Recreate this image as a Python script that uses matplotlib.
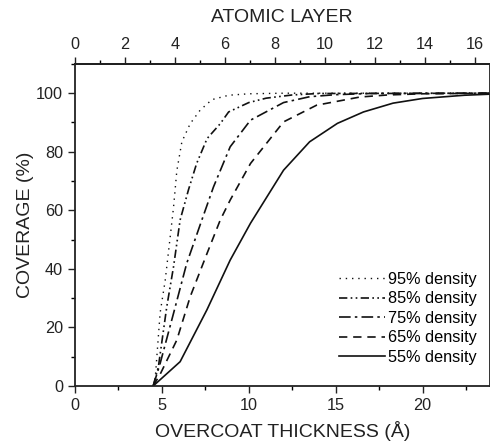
import matplotlib
matplotlib.use("Agg")
import matplotlib.pyplot as plt
from matplotlib.ticker import MultipleLocator, FixedLocator

plt.rcParams['font.family'] = ['Liberation Sans', 'DejaVu Sans']

ANGSTROM_PER_LAYER = 1.438
layer_ticks = [0, 2, 4, 6, 8, 10, 12, 14, 16]

# (thickness in Angstrom, coverage %)
x95 = [4.5, 4.61, 4.9, 5.19, 5.48, 5.67, 5.86, 6.15, 6.63, 7.2, 7.88, 8.84, 10.0, 12.0, 24.0]
y95 = [0, 2, 25, 36, 51, 61, 73.5, 83.4, 89.6, 94.2, 97.8, 99.3, 99.8, 100, 100]

x85 = [4.5, 4.8, 5.28, 5.67, 6.05, 6.53, 7.0, 7.6, 8.36, 8.84, 10.0, 11.0, 12.5, 14.0, 24.0]
y85 = [0, 6.6, 27, 40.7, 56.7, 67, 76, 84.5, 89.6, 93.6, 96.8, 98.3, 99.4, 99.9, 100]

x75 = [4.5, 4.9, 5.67, 6.43, 7.3, 7.97, 8.93, 10.1, 12.0, 13.5, 15.0, 17.0, 24.0]
y75 = [0, 7.7, 24.8, 41.9, 56.7, 68, 81.7, 90.8, 96.8, 98.8, 99.5, 99.9, 100]

x65 = [4.5, 4.9, 5.86, 6.63, 7.6, 8.36, 8.93, 10.1, 12.0, 13.9, 16.4, 18.0, 20.0, 24.0]
y65 = [0, 4, 15.7, 30.5, 45.3, 56.7, 63.5, 76, 90.2, 95.9, 98.7, 99.4, 99.8, 100]

x55 = [4.5, 6.05, 7.59, 8.93, 10.1, 12.0, 13.5, 15.1, 16.6, 18.3, 20.0, 22.4, 24.0]
y55 = [0, 8.3, 26, 43, 55.6, 73.7, 83.4, 89.7, 93.6, 96.6, 98.2, 99.3, 99.7]

fig = plt.figure(figsize=(4.9, 4.47), dpi=100)
ax = fig.add_axes([0.153, 0.1365, 0.846, 0.7205])

lc = '#111111'
ax.plot(x95, y95, color=lc, lw=1.0, linestyle=(0, (1, 3.5)), label='95% density')
ax.plot(x85, y85, color=lc, lw=1.2, linestyle=(0, (5, 2, 1, 2, 1, 2)), label='85% density')
ax.plot(x75, y75, color=lc, lw=1.2, linestyle=(0, (7, 2.5, 1.5, 2.5)), label='75% density')
ax.plot(x65, y65, color=lc, lw=1.2, linestyle=(0, (5, 3.5)), label='65% density')
ax.plot(x55, y55, color=lc, lw=1.2, linestyle='-', label='55% density')

ax.set_xlim(0, 23.85)
ax.set_ylim(0, 110)
ax.xaxis.set_major_locator(MultipleLocator(5))
ax.xaxis.set_minor_locator(MultipleLocator(2.5))
ax.yaxis.set_major_locator(MultipleLocator(20))
ax.yaxis.set_minor_locator(MultipleLocator(10))
ax.tick_params(which='major', direction='out', length=5, width=1, labelsize=11.7, colors='#222222')
ax.tick_params(which='minor', direction='out', length=3, width=1)
for s in ax.spines.values():
    s.set_linewidth(1.3)
    s.set_color('#222222')
ax.set_xlabel('OVERCOAT THICKNESS (Å)', fontsize=14, color='#222222', labelpad=6)
ax.set_ylabel('COVERAGE (%)', fontsize=14, color='#222222', labelpad=1.5)

top = ax.secondary_xaxis('top', functions=(lambda t: t / ANGSTROM_PER_LAYER,
                                           lambda l: l * ANGSTROM_PER_LAYER))
top.xaxis.set_major_locator(FixedLocator(layer_ticks))
top.xaxis.set_minor_locator(FixedLocator(list(range(0, 17))))
top.tick_params(which='major', direction='out', length=5, width=1, labelsize=11.7, colors='#222222')
top.tick_params(which='minor', direction='out', length=3, width=1)
top.spines['top'].set_linewidth(1.3)
top.set_xlabel('ATOMIC LAYER', fontsize=14, color='#222222', labelpad=11)

leg = ax.legend(loc='lower right', bbox_to_anchor=(0.985, 0.045), frameon=False, fontsize=11.7,
                handlelength=2.8, handletextpad=0.2, labelspacing=0.28, borderaxespad=0)

fig.savefig('out.png', dpi=100)
